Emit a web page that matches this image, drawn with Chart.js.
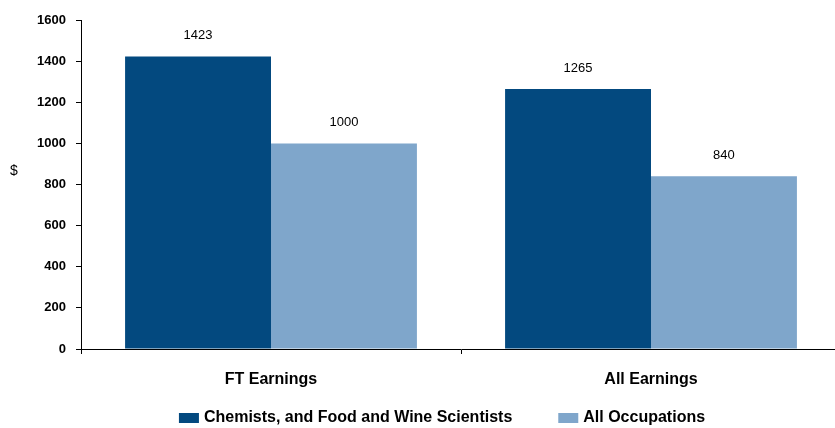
<!DOCTYPE html>
<html>
<head>
<meta charset="utf-8">
<script src="https://cdn.jsdelivr.net/npm/chart.js@4.4.1/dist/chart.umd.min.js"></script>
<style>
  html, body { margin: 0; padding: 0; background: #fff; overflow: hidden; }
  #wrap { width: 845px; height: 428px; }
</style>
</head>
<body>
<div id="wrap"><canvas id="canvas1"></canvas></div>
<script>
var categories = ["FT Earnings", "All Earnings"];
var chemists = [1423, 1265];
var allOccupations = [1000, 840];
var yTicks = [0, 200, 400, 600, 800, 1000, 1200, 1400, 1600];

var sans = "'Liberation Sans', Arial, sans-serif";

// value labels above bars, "$" axis title and the legend row
var extras = {
  id: 'extras',
  afterDatasetsDraw: function(chart) {
    var ctx = chart.ctx;
    ctx.save();
    ctx.fillStyle = '#000';
    ctx.font = "13px " + sans;
    ctx.textAlign = 'center';
    ctx.textBaseline = 'bottom';
    chart.data.datasets.forEach(function(ds, i) {
      chart.getDatasetMeta(i).data.forEach(function(bar, j) {
        ctx.fillText(ds.data[j], bar.x, bar.y - 14);
      });
    });
    ctx.font = "14px " + sans;
    ctx.fillText('$', 14, 178);

    // legend
    ctx.font = "bold 16px " + sans;
    ctx.textAlign = 'left';
    ctx.textBaseline = 'middle';
    var items = chart.data.datasets;
    var gap = 46, box = 20, total = 0;
    items.forEach(function(ds, i) {
      total += box + 5 + ctx.measureText(ds.label).width + (i ? gap : 0);
    });
    var x = 442 - total / 2, y = 418;
    items.forEach(function(ds) {
      ctx.fillStyle = ds.backgroundColor;
      ctx.fillRect(x, y - 5, box, 10);
      ctx.fillStyle = '#000';
      ctx.fillText(ds.label, x + box + 5, y);
      x += box + 5 + ctx.measureText(ds.label).width + gap;
    });
    ctx.restore();
  }
};

new Chart(document.getElementById("canvas1").getContext("2d"), {
  type: 'bar',
  data: {
    labels: categories,
    datasets: [{
      label: 'Chemists, and Food and Wine Scientists',
      data: chemists,
      backgroundColor: '#03497f',
      categoryPercentage: 0.768,
      barPercentage: 1.0
    }, {
      label: 'All Occupations',
      data: allOccupations,
      backgroundColor: '#7fa6cb',
      categoryPercentage: 0.768,
      barPercentage: 1.0
    }]
  },
  options: {
    responsive: true,
    maintainAspectRatio: false,
    animation: false,
    layout: { padding: { top: 20, right: 4, left: 0, bottom: 0 } },
    plugins: {
      tooltip: { enabled: false },
      legend: { display: false }
    },
    scales: {
      x: {
        afterFit: function(scale) { scale.height = 79; },
        border: { color: '#000', width: 1 },
        grid: { offset: true, drawOnChartArea: false, tickLength: 5, color: '#000' },
        ticks: {
          color: '#000',
          padding: 16,
          font: { family: sans, size: 16, weight: 'bold' }
        }
      },
      y: {
        min: 0,
        max: 1600,
        afterFit: function(scale) { scale.width = 81; },
        afterBuildTicks: function(scale) {
          scale.ticks = yTicks.map(function(v) { return { value: v }; });
        },
        border: { color: '#000', width: 1 },
        grid: { drawOnChartArea: false, tickLength: 5, color: '#000' },
        ticks: {
          color: '#000',
          padding: 10,
          font: { family: sans, size: 13, weight: 'bold' },
          callback: function(v) { return String(v); }
        }
      }
    }
  },
  plugins: [extras]
});
</script>
</body>
</html>
